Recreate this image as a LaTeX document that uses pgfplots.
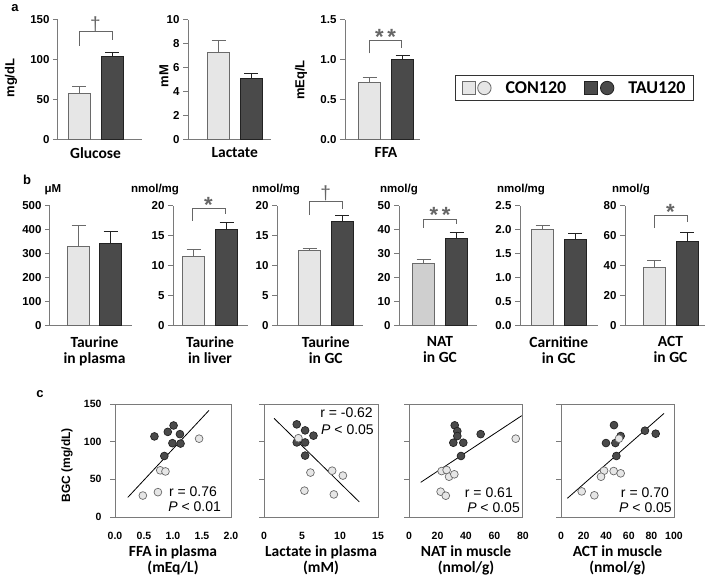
\documentclass[border=0pt]{standalone}
\usepackage{pgfplots}
\pgfplotsset{compat=1.18}
\usepackage{fontspec}
\setmainfont{Liberation Sans}
\newfontfamily\calib{Carlito}
\definecolor{barlight}{HTML}{E6E6E6}
\definecolor{barnat}{HTML}{CFCFCF}
\definecolor{bardark}{HTML}{4A4A4A}
\definecolor{edgelight}{HTML}{6A6A6A}
\definecolor{edgedark}{HTML}{222222}
\definecolor{axgray}{HTML}{7A7A7A}
\definecolor{brgray}{HTML}{666666}

\pgfplotsset{
  barax/.style={scale only axis, axis x line*=bottom, axis y line*=left, xmin=0, ymin=0,
    xtick=\empty, axis line style={axgray, line width=1pt}, ytick style={axgray, line width=1pt},
    tick align=outside, major tick length=5pt, clip=false,
    yticklabel={\pgfmathprintnumber{\tick}},
    tick label style={font=\fontsize{11.5}{13}\selectfont\bfseries},
    /pgf/number format/assume math mode=true},
  conbar/.style={ybar, bar shift=0pt, bar width=22, fill=barlight, draw=edgelight, line width=0.9pt,
    error bars/y dir=plus, error bars/y explicit,
    error bars/error bar style={edgelight, line width=0.9pt},
    error bars/error mark options={rotate=90, edgelight, line width=0.9pt, mark size=7pt}},
  taubar/.style={ybar, bar shift=0pt, bar width=22, fill=bardark, draw=edgedark, line width=0.9pt,
    error bars/y dir=plus, error bars/y explicit,
    error bars/error bar style={edgedark, line width=0.9pt},
    error bars/error mark options={rotate=90, edgedark, line width=0.9pt, mark size=7pt}},
  scatax/.style={scale only axis, height=113pt, ymin=0, ymax=150, ytick={0,50,100,150}, xmin=0,
    axis line style={axgray, line width=1pt}, ytick pos=left, tick align=outside, major tick length=5pt,
    ytick style={axgray, line width=1pt}, xtick style={draw=none},
    yticklabel={\pgfmathprintnumber{\tick}}, xticklabel={\pgfmathprintnumber{\tick}},
    tick label style={font=\fontsize{10.5}{12}\selectfont\bfseries},
    xticklabel style={yshift=-7pt}, yticklabel style={xshift=-5pt},
    /pgf/number format/assume math mode=true,
    xlabel style={align=center, font=\fontsize{15.5}{16}\selectfont\calib\bfseries, yshift=1pt}},
  tau/.style={only marks, mark=*, mark size=3.9pt, mark options={fill=bardark, draw=edgedark, line width=0.7pt}},
  con/.style={only marks, mark=*, mark size=3.9pt, mark options={fill=barlight, draw=edgelight, line width=0.7pt}},
}
\tikzset{
  cat/.style={anchor=north, align=center, inner sep=0pt, font=\fontsize{15.5}{16}\selectfont\calib\bfseries},
  unit/.style={font=\fontsize{11.5}{13}\selectfont\bfseries},
  ylab/.style={rotate=90, font=\fontsize{13}{14}\selectfont\bfseries},
  br/.style={brgray, line width=0.9pt},
  star/.style={brgray, anchor=base, inner sep=0pt, yshift=-3.5pt, font=\fontsize{22}{22}\selectfont\bfseries},
  dag/.style={brgray, anchor=south, inner sep=0pt, font=\fontsize{19}{19}\selectfont},
  rtext/.style={anchor=east, inner sep=0pt, font=\fontsize{14}{15}\selectfont},
}

\begin{document}
\begin{tikzpicture}
\useasboundingbox (0,0) rectangle (709pt,-579pt);

% panel labels
\node[font=\fontsize{13}{14}\selectfont\bfseries] at (15pt,-8pt) {a};
\node[font=\fontsize{13}{14}\selectfont\bfseries] at (27pt,-180pt) {b};
\node[font=\fontsize{13}{14}\selectfont\bfseries] at (40pt,-394pt) {c};

% ---------- panel a ----------
\begin{axis}[barax, at={(58pt,-139.3pt)}, anchor=south west, width=84pt, height=119.5pt,
  xmax=84, ymax=150, ytick={0,50,100,150}]
\addplot[conbar] coordinates {(21,57) +- (0,9)};
\addplot[taubar] coordinates {(54,103.5) +- (0,6)};
\draw[br] (axis cs:21,117.5) |- (axis cs:54,135) -- (axis cs:54,125);
\node[dag] at (axis cs:37.5,135) {†};
\node[cat] at (axis cs:37.5,0) [yshift=-8pt] {Glucose};
\end{axis}
\node[ylab] at (11pt,-78pt) {mg/dL};

\begin{axis}[barax, at={(188pt,-139.3pt)}, anchor=south west, width=83pt, height=119.5pt,
  xmax=83, ymax=10, ytick={0,2,4,6,8,10}]
\addplot[conbar] coordinates {(30.5,7.3) +- (0,1.0)};
\addplot[taubar] coordinates {(63,5.1) +- (0,0.4)};
\node[cat] at (axis cs:46.75,0) [yshift=-8pt] {Lactate};
\end{axis}
\node[ylab] at (164pt,-76pt) {mM};

\begin{axis}[barax, at={(345pt,-139.3pt)}, anchor=south west, width=75pt, height=119.5pt,
  xmax=75, ymax=1.5, ytick={0,0.5,1.0,1.5},
  yticklabel style={/pgf/number format/.cd, fixed, fixed zerofill, precision=1}]
\addplot[conbar] coordinates {(24.5,0.71) +- (0,0.07)};
\addplot[taubar] coordinates {(57.5,1.005) +- (0,0.05)};
\draw[br] (axis cs:24.5,1.08) |- (axis cs:56.5,1.24) -- (axis cs:56.5,1.14);
\node[star] at (axis cs:40.5,1.24) {*\,*};
\node[cat] at (axis cs:41,0) [yshift=-8pt] {FFA};
\end{axis}
\node[ylab] at (301pt,-80pt) {mEq/L};

% legend
\begin{axis}[at={(458pt,-105pt)}, anchor=south west, scale only axis, width=233pt, height=34pt,
  hide axis, xmin=0, xmax=1, ymin=0, ymax=1,
  legend style={at={(0.5,0.5)}, anchor=center, draw=black!80, line width=0.9pt,
    font=\fontsize{18}{18}\selectfont\calib\bfseries, legend columns=2,
    inner xsep=6pt, inner ysep=4pt, /tikz/every even column/.append style={column sep=16pt}}]
\addlegendimage{legend image code/.code={
  \draw[fill=barlight, draw=edgelight, line width=0.8pt] (0pt,-6.5pt) rectangle (13pt,6.5pt);
  \draw[fill=barlight, draw=edgelight, line width=0.8pt] (22.5pt,0pt) circle (6.7pt);}}
\addlegendentry{\hspace{12pt}CON120}
\addlegendimage{legend image code/.code={
  \draw[fill=bardark, draw=edgedark, line width=0.8pt] (0pt,-6.5pt) rectangle (13pt,6.5pt);
  \draw[fill=bardark, draw=edgedark, line width=0.8pt] (22.5pt,0pt) circle (6.7pt);}}
\addlegendentry{\hspace{12pt}TAU120}
\end{axis}

% ---------- panel b ----------
\begin{axis}[barax, at={(50pt,-325.5pt)}, anchor=south west, width=82pt, height=120pt,
  xmax=82, ymax=500, ytick={0,100,...,500}]
\addplot[conbar] coordinates {(28.5,330) +- (0,88)};
\addplot[taubar] coordinates {(60.5,344) +- (0,49)};
\node[cat] at (axis cs:44.5,0) [yshift=-11pt] {Taurine\\in plasma};
\end{axis}
\node[unit] at (53pt,-190pt) {μM};

\begin{axis}[barax, at={(173pt,-325.5pt)}, anchor=south west, width=75pt, height=120pt,
  xmax=75, ymax=20, ytick={0,5,...,20}]
\addplot[conbar] coordinates {(20.5,11.5) +- (0,1.1)};
\addplot[taubar] coordinates {(53.5,16) +- (0,1.2)};
\draw[br] (axis cs:19,17.5) |- (axis cs:52,19.5) -- (axis cs:52,18.6);
\node[star] at (axis cs:35.5,19.5) {*};
\node[cat] at (axis cs:37,0) [yshift=-11pt] {Taurine\\in liver};
\end{axis}
\node[unit] at (155pt,-190pt) {nmol/mg};

\begin{axis}[barax, at={(277pt,-325.5pt)}, anchor=south west, width=86pt, height=120pt,
  xmax=86, ymax=20, ytick={0,5,...,20}]
\addplot[conbar] coordinates {(32.5,12.5) +- (0,0.4)};
\addplot[taubar] coordinates {(65,17.4) +- (0,0.9)};
\draw[br] (axis cs:32.5,18.4) |- (axis cs:65,20.7) -- (axis cs:65,19.5);
\node[dag] at (axis cs:48.75,20.7) {†};
\node[cat] at (axis cs:48.75,0) [yshift=-11pt] {Taurine\\in GC};
\end{axis}
\node[unit] at (276pt,-190pt) {nmol/mg};

\begin{axis}[barax, at={(399pt,-325.5pt)}, anchor=south west, width=78pt, height=120pt,
  xmax=78, ymax=50, ytick={0,10,...,50}]
\addplot[conbar, fill=barnat] coordinates {(24.5,25.7) +- (0,1.8)};
\addplot[taubar] coordinates {(57.5,36.2) +- (0,2.7)};
\draw[br] (axis cs:24.5,40.7) |- (axis cs:57.5,44.3) -- (axis cs:57.5,42.5);
\node[star] at (axis cs:41,44.3) {*\,*};
\node[cat] at (axis cs:41,0) [yshift=-11pt] {NAT\\in GC};
\end{axis}
\node[unit] at (399pt,-190pt) {nmol/g};

\begin{axis}[barax, at={(520pt,-325.5pt)}, anchor=south west, width=78pt, height=120pt,
  xmax=78, ymax=2.5, ytick={0,0.5,...,2.5},
  yticklabel style={/pgf/number format/.cd, fixed, fixed zerofill, precision=1}]
\addplot[conbar] coordinates {(22.5,2.0) +- (0,0.09)};
\addplot[taubar] coordinates {(55,1.79) +- (0,0.12)};
\node[cat] at (axis cs:38.75,0) [yshift=-11pt] {Carnitine\\in GC};
\end{axis}
\node[unit] at (521pt,-190pt) {nmol/mg};

\begin{axis}[barax, at={(625pt,-325.5pt)}, anchor=south west, width=80pt, height=120pt,
  xmax=80, ymax=80, ytick={0,20,...,80}]
\addplot[conbar] coordinates {(29,38.5) +- (0,5.1)};
\addplot[taubar] coordinates {(62,55.9) +- (0,6.3)};
\draw[br] (axis cs:29,65) |- (axis cs:62,73.1) -- (axis cs:62,69);
\node[star] at (axis cs:45.5,73.1) {*};
\node[cat] at (axis cs:45.5,0) [yshift=-11pt] {ACT\\in GC};
\end{axis}
\node[unit] at (631pt,-190pt) {nmol/g};

% ---------- panel c ----------
\begin{axis}[scatax, at={(115pt,-517pt)}, anchor=south west, width=116pt, xmax=2,
  xtick={0,0.5,...,2}, xticklabel style={/pgf/number format/.cd, fixed, fixed zerofill, precision=1},
  xlabel={FFA in plasma\\(mEq/L)}]
\addplot[black, line width=0.8pt] coordinates {(0.22,26) (1.62,141.5)};
\addplot[tau] coordinates {(0.68,107) (0.91,113) (1.01,121.5) (1.12,110) (0.99,98) (1.13,97.5) (0.85,81)};
\addplot[con] coordinates {(1.45,104) (0.78,62) (0.87,60.5) (0.74,33) (0.48,28.5)};
\node[rtext] at (axis cs:1.76,33) {r = 0.76};
\node[rtext] at (axis cs:1.83,13.3) {\textit{P} < 0.01};
\end{axis}
\node[rotate=90, font=\fontsize{12}{13}\selectfont\bfseries] at (67pt,-465pt) {BGC (mg/dL)};

\begin{axis}[scatax, at={(264pt,-517pt)}, anchor=south west, width=114pt, xmax=15,
  xtick={0,5,10,15}, yticklabels={},
  xlabel={Lactate in plasma\\(mM)}]
\addplot[black, line width=0.8pt] coordinates {(1.32,131) (12.54,20)};
\addplot[tau] coordinates {(4.31,123) (5.41,115) (6.51,108) (4.31,99) (5.41,99) (5.41,81.5)};
\addplot[con] coordinates {(4.53,104.6) (6.11,59) (8.97,61.5) (10.38,55) (5.32,35) (9.19,30)};
\node[rtext] at (axis cs:14.34,138) {r = -0.62};
\node[rtext] at (axis cs:14.47,115.5) {\textit{P} < 0.05};
\end{axis}

\begin{axis}[scatax, at={(409pt,-517pt)}, anchor=south west, width=114pt, xmax=80,
  xtick={0,20,...,80}, yticklabels={},
  xlabel={NAT in muscle\\(nmol/g)}]
\addplot[black, line width=0.8pt] coordinates {(8.2,46) (79.1,134.5)};
\addplot[tau] coordinates {(32.1,121.7) (33.9,114) (33.9,107.5) (31.1,98.6) (38.1,98.6) (36.5,81) (50.3,110)};
\addplot[con] coordinates {(74.9,104) (22.9,61) (26.4,62.4) (28.1,53.5) (31.8,56.7) (22.2,33.6) (25.8,28.3)};
\node[rtext] at (axis cs:73,31.8) {r = 0.61};
\node[rtext] at (axis cs:77.9,11.9) {\textit{P} < 0.05};
\end{axis}

\begin{axis}[scatax, at={(561pt,-517pt)}, anchor=south west, width=113pt, xmax=100,
  xtick={0,20,...,100}, yticklabels={},
  xlabel={ACT in muscle\\(nmol/g)}]
\addplot[black, line width=0.8pt] coordinates {(5.6,24.8) (91.2,137.6)};
\addplot[tau] coordinates {(46.9,122) (74.3,114.6) (83.8,110.6) (52.8,107.5) (39.8,98.2) (48.1,98.2) (49,81)};
\addplot[con] coordinates {(51.3,104) (38.1,61.5) (46.6,61) (52.8,58) (35.4,53.5) (18.3,34) (29.5,28.8)};
\node[rtext] at (axis cs:95.6,31.8) {r = 0.70};
\node[rtext] at (axis cs:98.2,11.9) {\textit{P} < 0.05};
\end{axis}
\end{tikzpicture}
\end{document}
